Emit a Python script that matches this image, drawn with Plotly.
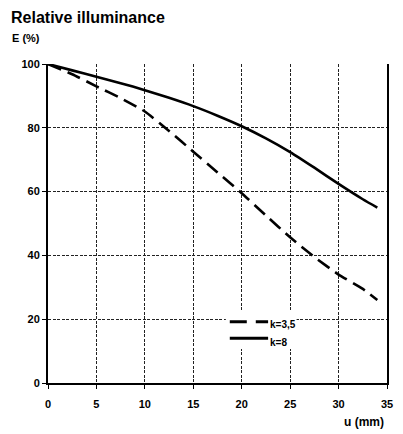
import plotly.graph_objects as go

# Relative illuminance vs. image height for two aperture settings
u_k35 = [0, 2.5, 5, 7.5, 10, 12.5, 15, 17.5, 20, 22.5, 25, 27.5, 30, 32.5, 34]
e_k35 = [100, 96.8, 93, 89.3, 85.1, 79, 72.5, 66, 59.5, 52.5, 45.7, 39.5, 34, 29.5, 26]

u_k8 = [0, 2.5, 5, 7.5, 10, 12.5, 15, 17.5, 20, 22.5, 25, 27.5, 30, 32.5, 34]
e_k8 = [100, 98, 96, 94, 91.8, 89.4, 86.8, 83.8, 80.5, 76.7, 72.4, 67.5, 62.4, 57.6, 55]

series_names = ["k=3,5", "k=8"]

x_ticks = [0, 5, 10, 15, 20, 25, 30, 35]
y_ticks = [0, 20, 40, 60, 80, 100]

FONT = "Liberation Sans, Arial, sans-serif"

# plot area in pixels
L, R, T, B = 48, 393, 64, 383
W, H = R - L, B - T


def px_x(px):
    return (px - L) / W


def px_y(py):
    return (B - py) / H


fig = go.Figure()
fig.add_trace(go.Scatter(
    x=u_k35, y=e_k35, mode="lines", name=series_names[0], showlegend=False,
    line=dict(color="black", width=2.6, dash="14px,7px", shape="spline", smoothing=0.5),
))
fig.add_trace(go.Scatter(
    x=u_k8, y=e_k8, mode="lines", name=series_names[1], showlegend=False,
    line=dict(color="black", width=2.6, shape="spline", smoothing=0.5),
))

grid = dict(showgrid=True, gridcolor="#222222", gridwidth=1, griddash="3px,1.5px")

fig.update_xaxes(
    range=[0, 35], tickvals=x_ticks, ticks="outside", ticklen=4, tickcolor="black",
    showline=True, linecolor="black", linewidth=2, zeroline=False,
    ticklabelstandoff=6,
    tickfont=dict(family=FONT, size=11, color="black", weight="bold"),
    **grid,
)
fig.update_yaxes(
    range=[0, 100], tickvals=y_ticks, ticks="outside", ticklen=4, tickcolor="black",
    showline=True, mirror=True, linecolor="black", linewidth=2, zeroline=False,
    tickfont=dict(family=FONT, size=11, color="black", weight="bold"),
    **grid,
)

# legend box with line keys
shapes = [
    dict(type="rect", xref="paper", yref="paper", layer="above",
         x0=px_x(229), x1=px_x(301), y0=px_y(349), y1=px_y(312),
         fillcolor="white", line=dict(width=0)),
    dict(type="line", xref="paper", yref="paper", layer="above",
         x0=px_x(233), x1=px_x(272), y0=px_y(321.7), y1=px_y(321.7),
         line=dict(color="black", width=3, dash="17px,9px")),
    dict(type="line", xref="paper", yref="paper", layer="above",
         x0=px_x(233), x1=px_x(272), y0=px_y(338.3), y1=px_y(338.3),
         line=dict(color="black", width=3)),
]

annotations = [
    dict(text="<b>Relative illuminance</b>", xref="paper", yref="paper",
         x=px_x(8), y=px_y(17), xanchor="left", yanchor="middle",
         showarrow=False, font=dict(family=FONT, size=16, color="black")),
    dict(text="<b>E (%)</b>", xref="paper", yref="paper",
         x=px_x(9), y=px_y(38), xanchor="left", yanchor="middle",
         showarrow=False, font=dict(family=FONT, size=11, color="black")),
    dict(text="<b>u (mm)</b>", xref="paper", yref="paper",
         x=px_x(392), y=px_y(422), xanchor="right", yanchor="middle",
         showarrow=False, font=dict(family=FONT, size=12, color="black")),
    dict(text="<b>" + series_names[0] + "</b>", xref="paper", yref="paper",
         x=px_x(272), y=px_y(324.5), xanchor="left", yanchor="middle",
         showarrow=False, font=dict(family=FONT, size=10, color="black")),
    dict(text="<b>" + series_names[1] + "</b>", xref="paper", yref="paper",
         x=px_x(272), y=px_y(342), xanchor="left", yanchor="middle",
         showarrow=False, font=dict(family=FONT, size=10, color="black")),
]

fig.update_layout(
    width=403, height=434,
    margin=dict(l=L, r=403 - R, t=T, b=434 - B),
    paper_bgcolor="white", plot_bgcolor="white",
    showlegend=False,
    shapes=shapes,
    annotations=annotations,
)

fig.write_html("out.html")
